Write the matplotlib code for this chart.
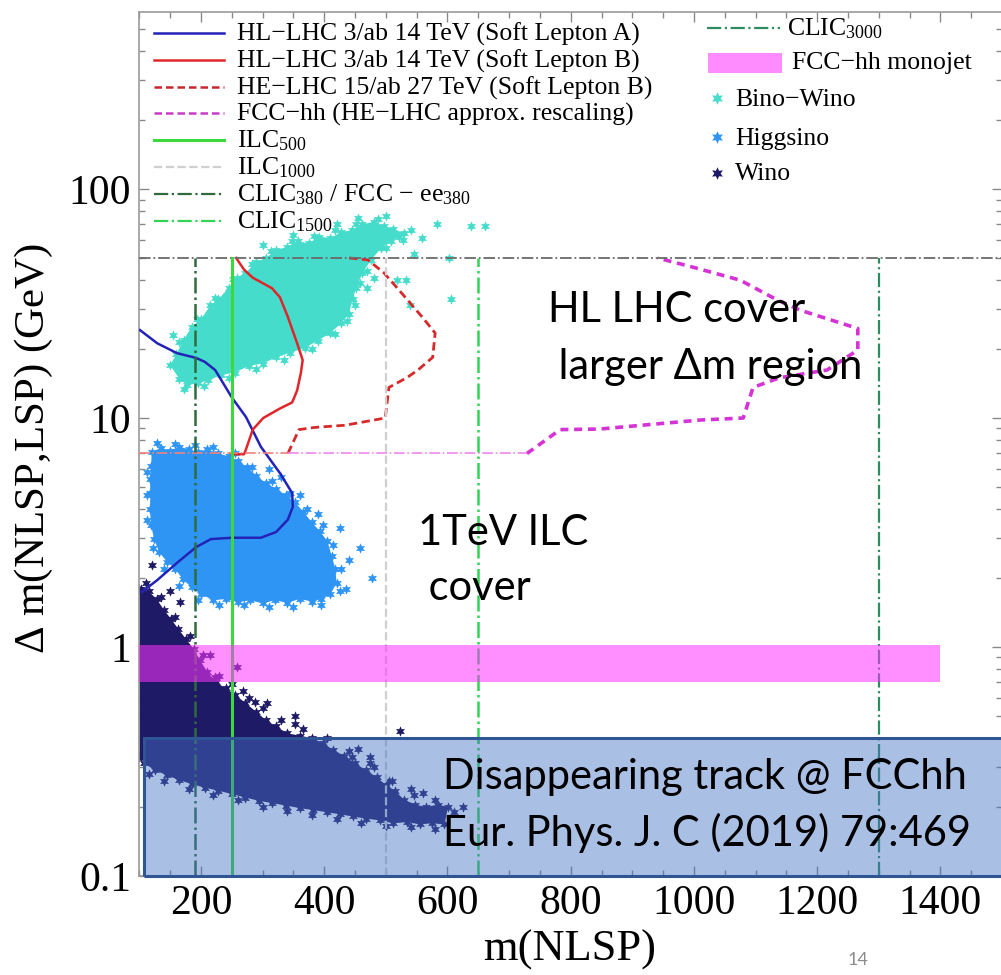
import numpy as np
import matplotlib
matplotlib.use("Agg")
import matplotlib.pyplot as plt
from matplotlib.patches import Rectangle
from matplotlib.lines import Line2D
from matplotlib.ticker import NullFormatter, LogLocator

plt.rcParams['font.family'] = ['Liberation Serif', 'DejaVu Serif']
plt.rcParams['mathtext.fontset'] = 'custom'
plt.rcParams['mathtext.rm'] = 'Liberation Serif'
plt.rcParams['mathtext.it'] = 'Liberation Serif:italic'

# ---------------- data ----------------
# HL-LHC 3/ab 14 TeV (Soft Lepton A)
blue_m = [101, 129, 161, 192, 206, 223, 250, 273, 297, 328, 348, 349, 341, 322, 297, 250, 216, 192, 161, 129, 104]
blue_dm = [24.2, 21.2, 19.2, 18.3, 17.6, 16.2, 12.3, 10.1, 7.5, 5.75, 4.7, 4.1, 3.6, 3.18, 3.0, 3.0, 2.96, 2.73, 2.33, 1.96, 1.74]
# HL-LHC 3/ab 14 TeV (Soft Lepton B)
red_m = [257, 270, 284, 315, 328, 341, 356, 365, 362, 356, 348, 328, 301, 284, 273, 270, 250]
red_dm = [50, 44.4, 41, 36.9, 33.7, 27.6, 21.2, 17.9, 15.7, 13.2, 11.7, 11.0, 10.0, 8.9, 7.3, 6.95, 6.95]
# HE-LHC 15/ab 27 TeV (Soft Lepton B)
he_m = [341, 359, 385, 434, 499, 505, 534, 552, 576, 580, 559, 521, 497, 471, 440]
he_dm = [7.0, 8.9, 9.1, 9.3, 10.0, 13.6, 15.0, 16.2, 18.4, 23.5, 27.6, 36.3, 43, 49, 50]
# FCC-hh (HE-LHC approx. rescaling)
fcc_m = [729, 783, 847, 1010, 1080, 1096, 1139, 1216, 1266, 1266, 1172, 1135, 1075, 998, 941]
fcc_dm = [7.0, 8.9, 8.95, 9.8, 10.0, 13.6, 15.0, 16.2, 19.8, 24.6, 29.6, 32.8, 40, 45.6, 50]

# collider reach lines
ilc500_m = 250
ilc1000_m = 500
clic380_m = 190
clic1500_m = 650
clic3000_m = 1300
dm_cap = 50
dm_low = 7

# FCC-hh monojet band
mono_m = [100, 1400]
mono_dm = [0.70, 1.02]

# Bino-Wino points (upper edge, lower edge, outliers, fringe)
bw_up_m = [150, 160, 172, 185, 200, 215, 228, 245, 258, 272, 290, 305, 322, 340, 358, 375, 392, 410, 428, 445, 462, 480, 497, 512, 530]
bw_up_dm = [17, 19, 22, 25, 27, 31, 33, 37, 41, 43, 48, 50, 54, 56, 59, 58, 62, 61, 65, 66, 70, 72, 69, 67, 64]
bw_lo_m = [522, 508, 492, 476, 462, 452, 446, 440, 428, 410, 390, 368, 345, 322, 300, 278, 255, 232, 212, 195, 178, 165]
bw_lo_dm = [62, 59, 55, 49, 43, 37, 33, 28.5, 26.0, 23.5, 21.8, 20.2, 19.3, 18.4, 17.3, 16.9, 15.8, 15.4, 14.6, 14.2, 13.9, 14.8]
bw_out_m = [155, 518, 533, 539, 559, 583, 602, 606, 638, 661, 545, 540, 470, 480, 300, 350, 420, 500, 455,
            165, 193, 222, 252, 282, 313, 348, 384, 418, 452, 488,
            172, 205, 245, 290, 334, 380, 418, 437, 450, 458, 470, 500, 528]
bw_out_dm = [23, 40, 40, 31, 61, 70, 50, 33, 69, 69, 52, 66, 37, 41, 57, 63, 70, 76, 75,
             21.5, 27, 33.5, 40.5, 47, 53.5, 59, 62.5, 66, 70, 74,
             13.4, 13.8, 14.9, 16.3, 18.0, 20.0, 23.2, 26.5, 31, 39, 44, 55, 60]

# Higgsino points
hg_up_m = [119, 120, 135, 150, 165, 180, 195, 210, 228, 245, 260, 275, 290, 305, 322, 338, 352, 366, 380, 393, 405, 412, 418, 420, 410, 395]
hg_up_dm = [6.2, 7.1, 7.4, 7.2, 7.5, 7.3, 7.1, 7.3, 7.0, 6.8, 6.5, 6.1, 5.6, 5.2, 4.9, 4.6, 4.3, 3.9, 3.5, 3.2, 2.9, 2.5, 2.2, 1.9, 1.7, 1.62]
hg_lo_m = [380, 360, 340, 320, 300, 280, 260, 240, 220, 200, 185, 170, 158, 145, 132, 124, 119, 117, 118, 117]
hg_lo_dm = [1.58, 1.62, 1.56, 1.6, 1.55, 1.6, 1.57, 1.62, 1.6, 1.7, 1.82, 1.98, 2.2, 2.35, 2.6, 2.95, 3.4, 4.0, 4.7, 5.4]
hg_out_m = [310, 330, 360, 390, 425, 458, 477, 440, 435, 250,
            128, 158, 190, 220, 255, 283, 315, 345, 372, 398, 415, 428, 425,
            395, 350, 310, 270, 230, 195, 165, 140, 122, 113, 112, 113]
hg_out_dm = [6.0, 5.5, 4.6, 3.8, 3.3, 2.7, 2.0, 2.4, 1.8, 6.2,
             7.8, 7.7, 7.6, 7.5, 7.0, 6.1, 5.3, 4.7, 4.0, 3.4, 2.8, 2.2, 1.75,
             1.52, 1.5, 1.49, 1.52, 1.52, 1.6, 1.85, 2.2, 2.7, 3.6, 4.6, 5.8]

# Wino points
wi_up_m = [100, 103, 115, 128, 140, 152, 163, 176, 188, 198, 210, 225, 240, 255, 272, 290, 305, 322, 340, 360, 380, 398, 415, 432, 450, 468, 485, 500, 515, 530, 548, 565, 585, 601]
wi_up_dm = [1.8, 1.8, 1.75, 1.62, 1.45, 1.32, 1.2, 1.08, 0.98, 0.88, 0.78, 0.7, 0.66, 0.62, 0.57, 0.52, 0.48, 0.45, 0.42, 0.41, 0.40, 0.38, 0.355, 0.335, 0.31, 0.29, 0.27, 0.25, 0.235, 0.215, 0.205, 0.2, 0.205, 0.2]
wi_lo_m = [595, 575, 555, 535, 512, 490, 468, 446, 425, 404, 382, 360, 338, 316, 294, 272, 250, 228, 206, 185, 165, 145, 125, 108, 102, 100]
wi_lo_dm = [0.168, 0.17, 0.168, 0.172, 0.17, 0.175, 0.178, 0.182, 0.186, 0.19, 0.194, 0.198, 0.203, 0.208, 0.213, 0.22, 0.228, 0.236, 0.243, 0.252, 0.262, 0.275, 0.29, 0.31, 0.33, 0.33]
wi_out_m = [120, 166, 150, 215, 258, 223, 268, 288, 307, 352, 352, 523, 455, 475, 540, 560, 610, 625, 590, 505, 480, 445,
            110, 135, 158, 182, 204, 230, 250, 278, 300, 330, 365, 405, 440, 475, 510, 545, 580,
            580, 540, 500, 460, 420, 380, 340, 300, 260, 220, 180, 140, 115]
wi_out_dm = [2.28, 1.57, 1.75, 0.92, 0.82, 0.74, 0.64, 0.575, 0.57, 0.50, 0.46, 0.43, 0.36, 0.33, 0.24, 0.23, 0.19, 0.2, 0.185, 0.26, 0.3, 0.33,
             1.9, 1.65, 1.35, 1.12, 0.92, 0.75, 0.69, 0.6, 0.54, 0.48, 0.44, 0.40, 0.35, 0.31, 0.26, 0.225, 0.215,
             0.16, 0.163, 0.166, 0.171, 0.178, 0.185, 0.193, 0.2, 0.215, 0.226, 0.24, 0.26, 0.28]

xticks = [200, 400, 600, 800, 1000, 1200, 1400]
yticks = [0.1, 1, 10, 100]
ytick_labels = ['0.1', '1', '10', '100']

# ---------------- figure ----------------
W, H = 1001, 975
fig = plt.figure(figsize=(W / 100, H / 100), dpi=100)


def fx(x):
    return x / W


def fy(y):
    return 1 - y / H


ax = fig.add_axes([fx(139.4), fy(876), (1002 - 139.4) / W, (876 - 12) / H])
ax.set_yscale('log')
ax.set_xlim(100, 1500)
ax.set_ylim(0.1, 593)

c_bw = '#45dccb'
c_hg = '#2f95f5'
c_wi = '#1f1a66'
star = (6, 1, 0)

# clouds: filled core + star markers
for up_m, up_dm, lo_m, lo_dm, out_m, out_dm, c in [
        (bw_up_m, bw_up_dm, bw_lo_m, bw_lo_dm, bw_out_m, bw_out_dm, c_bw),
        (hg_up_m, hg_up_dm, hg_lo_m, hg_lo_dm, hg_out_m, hg_out_dm, c_hg),
        (wi_up_m, wi_up_dm, wi_lo_m, wi_lo_dm, wi_out_m, wi_out_dm, c_wi)]:
    ax.fill(up_m + lo_m, up_dm + lo_dm, color=c, lw=0, zorder=2)
    ax.scatter(up_m + lo_m + out_m, up_dm + lo_dm + out_dm, marker=star, s=55,
               color=c, lw=0, zorder=2)

# curves
ax.plot(blue_m, blue_dm, color='#2323b8', lw=1.8, zorder=3)
ax.plot(red_m, red_dm, color='#e0262b', lw=1.8, zorder=3)
ax.plot(he_m, he_dm, color='#d62a2a', lw=2, ls=(0, (3, 1.6)), zorder=3)
ax.plot(fcc_m, fcc_dm, color='#d633d6', lw=2.6, ls=(0, (2.2, 1.6)), zorder=3)
ax.plot([100, he_m[0]], [dm_low, dm_low], color='#f08080', lw=1.2, ls='-.', zorder=3)
ax.plot([he_m[0], fcc_m[0]], [dm_low, dm_low], color='#ee88ee', lw=1.2, ls='-.', zorder=3)
ax.plot([100, 1500], [dm_cap, dm_cap], color='#6a6a6a', lw=1.3, ls='-.', zorder=3)

# vertical reach lines
ax.plot([clic380_m] * 2, [0.1, dm_cap], color='#2f6b3c', lw=1.8, ls='-.', zorder=3)
ax.plot([ilc500_m] * 2, [0.1, dm_cap], color='#3cd83c', lw=2.2, zorder=3)
ax.plot([ilc1000_m] * 2, [0.1, dm_cap], color='#cfcfcf', lw=1.6, ls='--', zorder=3)
ax.plot([clic1500_m] * 2, [0.1, dm_cap], color='#33d455', lw=1.8, ls='-.', zorder=3)
ax.plot([clic3000_m] * 2, [0.1, dm_cap], color='#2e8b62', lw=1.6, ls='-.', zorder=3)

# FCC-hh monojet band
ax.add_patch(Rectangle((mono_m[0], mono_dm[0]), mono_m[1] - mono_m[0], mono_dm[1] - mono_dm[0],
                       facecolor='#ff33ff', alpha=0.55, lw=0, zorder=4))

# ticks
ax.set_xticks(xticks)
ax.set_xticks(np.arange(100, 1501, 50), minor=True)
ax.set_yticks(yticks)
ax.set_yticklabels(ytick_labels)
ax.yaxis.set_minor_locator(LogLocator(base=10, subs=np.arange(2, 10)))
ax.yaxis.set_minor_formatter(NullFormatter())
ax.tick_params(which='both', direction='in', top=True, right=True, color='#8a8a8a', width=1)
ax.tick_params(which='major', length=7, labelsize=30, pad=6)
ax.tick_params(which='minor', length=4)
for s in ax.spines.values():
    s.set_color('#9a9a9a')
    s.set_linewidth(1.2)

fig.text(fx(570), fy(950), 'm(NLSP)', fontsize=32, ha='center', va='center')
fig.text(fx(34), fy(448), r'$\Delta$ m(NLSP,LSP) (GeV)', fontsize=31, rotation=90,
         ha='center', va='center')

# legend, left column
lg = 18.5
left_entries = [
    ('HL\u2212LHC 3/ab 14 TeV (Soft Lepton A)', dict(color='#2323b8', lw=1.8)),
    ('HL\u2212LHC 3/ab 14 TeV (Soft Lepton B)', dict(color='#e0262b', lw=1.8)),
    ('HE\u2212LHC 15/ab 27 TeV (Soft Lepton B)', dict(color='#c8282d', lw=1.8, ls=(0, (3, 1.6)))),
    ('FCC\u2212hh (HE\u2212LHC approx. rescaling)', dict(color='#c83cc8', lw=1.8, ls=(0, (3, 1.6)))),
    (r'ILC$_{\mathrm{500}}$', dict(color='#3cd83c', lw=2.2)),
    (r'ILC$_{\mathrm{1000}}$', dict(color='#cfcfcf', lw=1.6, ls='--')),
    (r'CLIC$_{\mathrm{380}}$ / FCC $-$ ee$_{\mathrm{380}}$', dict(color='#2f6b3c', lw=1.6, ls='-.')),
    (r'CLIC$_{\mathrm{1500}}$', dict(color='#33d455', lw=1.6, ls='-.')),
]
for i, (lab, kw) in enumerate(left_entries):
    yy = 33 + 26.8 * i
    fig.add_artist(Line2D([fx(154), fx(224)], [fy(yy), fy(yy)], transform=fig.transFigure, **kw))
    fig.text(fx(237), fy(yy + 7.5), lab, fontsize=lg, ha='left', va='baseline')

# legend, right column
fig.add_artist(Line2D([fx(707), fx(780)], [fy(28), fy(28)], transform=fig.transFigure,
                      color='#2e8b62', lw=1.6, ls='-.'))
fig.text(fx(787), fy(35.5), r'CLIC$_{\mathrm{3000}}$', fontsize=lg, ha='left', va='baseline')
fig.add_artist(Rectangle((fx(708), fy(73)), fx(74), 20 / H, transform=fig.transFigure,
                         facecolor='#ff8cff', edgecolor='none'))
fig.text(fx(792), fy(69.5), 'FCC\u2212hh monojet', fontsize=lg, ha='left', va='baseline')
for yy, lab, c in [(98, 'Bino\u2212Wino', c_bw), (137, 'Higgsino', c_hg), (173, 'Wino', c_wi)]:
    fig.add_artist(Line2D([fx(717)], [fy(yy)], transform=fig.transFigure, marker=star,
                          markersize=9, color=c, mew=0, ls='none'))
    fig.text(fx(735), fy(yy + 7.5), lab, fontsize=lg, ha='left', va='baseline')

# slide overlays
fig.add_artist(Rectangle((fx(144), fy(876)), (1010 - 144) / W, (876 - 738) / H,
                         transform=fig.transFigure, facecolor='#4472c4', alpha=0.45,
                         edgecolor='none', zorder=5))
fig.add_artist(Rectangle((fx(144), fy(876)), (1010 - 144) / W, (876 - 738) / H,
                         transform=fig.transFigure, facecolor='none', edgecolor='#2f5597',
                         lw=2.2, zorder=5))

sans = ['Lato', 'DejaVu Sans']
fig.text(fx(443), fy(777), 'Disappearing track @ FCChh', fontsize=30, family=sans,
         ha='left', va='center', zorder=6)
fig.text(fx(443), fy(833), 'Eur. Phys. J. C (2019) 79:469', fontsize=30, family=sans,
         ha='left', va='center', zorder=6)
fig.text(fx(548), fy(310), 'HL LHC cover', fontsize=30, family=sans, ha='left', va='center', zorder=6)
fig.text(fx(548), fy(367), ' larger \u0394m region', fontsize=30, family=sans, ha='left', va='center', zorder=6)
fig.text(fx(418), fy(533), '1TeV ILC', fontsize=30, family=sans, ha='left', va='center', zorder=6)
fig.text(fx(418), fy(588), ' cover', fontsize=30, family=sans, ha='left', va='center', zorder=6)
fig.text(fx(858), fy(960), '14', fontsize=13, family=sans, color='#8c8c8c', ha='center', va='center')

fig.savefig('out.png', dpi=100)
